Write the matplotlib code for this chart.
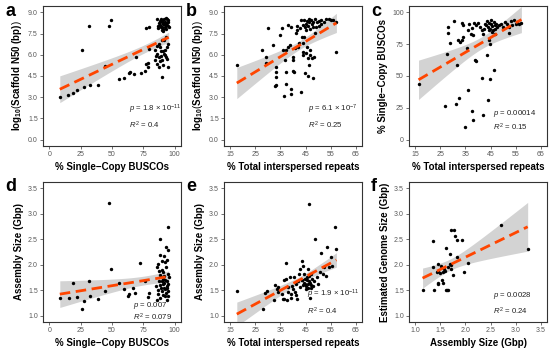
# -*- coding: utf-8 -*-
"""
Six-panel regression scatter (assembly quality vs repeats / BUSCO / size).
"""

import numpy as np
import matplotlib
matplotlib.use("Agg")
import matplotlib.pyplot as plt
from matplotlib.ticker import FormatStrFormatter

plt.rcParams["font.family"] = ["Liberation Sans", "DejaVu Sans"]
plt.rcParams["mathtext.fontset"] = "custom"
plt.rcParams["mathtext.rm"] = "Liberation Sans"
plt.rcParams["mathtext.it"] = "Liberation Sans:italic"
plt.rcParams["mathtext.bf"] = "Liberation Sans:bold"

ORANGE = "#FF4500"
BAND = "#D3D3D3"
TICK = "#595959"

# ---------- panel a : BUSCO vs log10 scaffold N50 ----------
busco_a = [8.4, 15.1, 18.6, 21.9, 27.8, 32.2, 38.9, 25.9, 31.4, 47.6, 48.9, 44.3,
           55.4, 59.2, 63.2, 64.3, 67.8, 68.9, 73.2, 76.5, 76.8, 76.8, 79.5, 79.5,
           78.6, 78.4,
           85.5, 88.0, 89.5, 90.5, 91.5, 92.0, 93.0, 94.0, 95.0, 88.5, 89.0, 90.0,
           91.0, 92.5, 93.5, 94.5, 87.5, 86.5, 90.5, 91.8, 89.8, 93.2, 94.8, 87.0,
           88.8, 92.8, 95.2, 90.8,
           84.1, 84.6, 85.9, 86.2, 87.3, 87.8, 88.6, 89.5, 90.0, 91.4, 92.2, 93.2,
           94.1, 94.6, 94.9, 93.0, 90.0, 87.3, 91.0, 89.0, 92.5, 90.5, 88.0, 86.0,
           93.8, 91.8, 89.2, 85.0]
n50_a = [3.00, 3.19, 3.31, 3.52, 3.73, 3.87, 3.87, 6.31, 8.03, 8.01, 8.48, 5.24,
         4.28, 4.37, 4.72, 4.80, 4.61, 5.81, 4.70, 4.82, 5.36, 7.89, 7.96, 6.38,
         5.43, 5.13,
         8.55, 8.40, 8.30, 8.45, 8.20, 8.35, 8.10, 8.50, 8.45, 8.10, 7.95, 8.00,
         7.85, 7.95, 8.25, 8.05, 8.25, 8.05, 8.15, 8.50, 7.75, 7.80, 8.30, 7.90,
         8.55, 8.60, 7.95, 7.70,
         6.31, 5.60, 6.07, 5.36, 5.83, 5.13, 6.54, 4.42, 5.60, 6.07, 6.31, 5.83,
         6.54, 5.13, 6.73, 7.25, 7.02, 6.78, 6.25, 5.90, 6.00, 5.30, 5.55, 6.60,
         5.70, 7.05, 6.25, 5.90]

# ---------- panel b : repeats vs log10 scaffold N50 ----------
rep_b = [17.6, 29.9, 27.7, 29.3, 29.4, 31.9, 32.7, 33.1, 33.1, 33.1, 33.3, 34.9,
         35.5, 35.9, 36.6, 36.8, 37.1, 37.1, 37.2, 37.9, 38.1, 38.8, 39.4, 39.2,
         39.4, 40.1, 40.1, 40.1, 40.5, 40.7, 41.0, 41.4, 41.4, 42.0, 42.3, 42.7,
         43.1, 43.3, 43.6, 44.0, 44.0, 44.1, 44.4, 44.9, 45.3, 45.6, 45.9, 45.9,
         46.3, 46.6, 46.9, 47.5, 47.9, 48.5, 48.8, 49.2, 51.1, 52.4, 53.3, 54.4,
         55.3, 56.0, 57.2, 57.3, 51.1,
         44.5, 45.0, 45.5, 46.0, 46.5, 47.0, 47.5, 48.0, 44.8, 46.2, 47.8, 49.5,
         50.2, 45.2, 43.8, 48.6, 46.8, 50.5]
n50_b = [5.27, 7.86, 6.34, 5.87, 5.41, 6.69, 3.78, 3.89, 4.43, 4.76, 5.17, 7.39,
         7.86, 6.34, 3.12, 5.64, 4.76, 3.94, 6.34, 6.57, 8.09, 6.69, 7.97, 3.59,
         3.24, 5.87, 5.64, 4.83, 4.76, 6.46, 7.51, 7.74, 8.02, 6.57, 6.81, 7.86,
         3.38, 8.44, 7.27, 6.81, 6.22, 5.99, 7.27, 4.71, 6.11, 6.57, 4.48, 5.76,
         5.29, 5.99, 6.34, 5.76, 4.36, 5.87, 7.51, 7.97, 8.20, 8.32, 8.55, 8.55,
         8.48, 8.48, 8.32, 6.18, 8.44,
         8.45, 8.20, 8.40, 8.05, 8.30, 8.45, 8.15, 8.35, 7.95, 8.50, 7.95, 8.30,
         8.05, 7.75, 8.10, 8.50, 7.85, 8.40]

# ---------- panel c : repeats vs BUSCO ----------
rep_c = [16.3, 26.7, 27.7, 28.1, 28.1, 28.8, 30.6, 31.4, 31.6, 32.3, 32.0, 32.7,
         33.6, 34.2, 33.8, 34.2, 34.9, 35.9, 35.8, 36.2, 36.6, 37.1, 37.5, 38.1,
         38.5, 38.8, 39.2, 39.4, 37.7, 38.1, 40.1, 40.7, 41.4, 41.8, 41.6, 42.0,
         42.3, 43.7, 44.0, 44.4, 44.6, 44.9, 46.2, 46.6,
         42.7, 43.3, 43.6, 44.0, 44.4, 44.6, 45.0, 45.3, 45.5, 45.9, 46.2, 46.6,
         46.9, 47.2, 47.5, 44.2, 45.7,
         48.5, 49.2, 49.8, 50.8, 51.4, 52.4, 53.1, 53.7, 54.4, 55.0, 55.6, 52.4,
         56.3, 57.3]
busco_c = [44.0, 26.2, 67.5, 88.5, 84.0, 75.9, 93.2, 28.3, 58.4, 32.7, 78.0, 76.7,
           91.6, 89.8, 78.0, 80.6, 9.9, 39.3, 72.0, 85.9, 90.6, 83.2, 88.0, 81.9,
           91.6, 62.8, 61.5, 89.8, 22.3, 15.7, 91.6, 88.5, 85.9, 19.1, 48.7, 83.2,
           87.2, 66.2, 31.4, 78.0, 74.9, 47.4, 54.5, 83.2,
           91.1, 89.8, 93.2, 88.5, 91.6, 87.2, 90.6, 93.7, 89.0, 86.4, 92.4, 89.8,
           87.2, 91.1, 88.5, 85.9, 84.6,
           89.8, 91.1, 88.5, 92.4, 90.6, 88.5, 93.2, 89.8, 93.7, 91.1, 92.4, 84.0,
           90.6, 91.6]

# ---------- panel d : BUSCO vs assembly size ----------
busco_d = [8.4, 15.7, 18.9, 21.9, 25.9, 27.8, 31.4, 32.4, 39.2, 44.1, 47.6, 49.2,
           55.4, 59.2, 62.4, 63.5, 67.0, 68.4, 72.7, 76.5, 78.6, 79.7,
           94.6, 87.9, 93.3, 94.9, 91.4, 90.0, 86.8,
           86.0, 87.5, 88.5, 89.5, 90.5, 91.5, 92.5, 93.5, 94.5, 95.0, 86.5, 87.0,
           88.0, 89.0, 90.0, 91.0, 92.0, 93.0, 94.0, 95.0, 85.5, 88.5, 90.5, 91.5,
           92.5, 93.5, 94.5, 89.5, 91.0, 93.0, 92.0, 87.5, 90.0, 94.0, 95.2, 88.0,
           85.0, 93.8, 91.8]
size_d = [1.34, 1.34, 1.65, 1.36, 1.13, 1.29, 1.69, 1.39, 1.32, 1.48, 3.21, 1.92,
          1.64, 1.52, 1.39, 1.43, 1.55, 1.45, 2.03, 1.69, 1.36, 1.45,
          2.74, 2.51, 2.34, 2.28, 2.18, 2.08, 2.02,
          1.95, 1.88, 1.80, 1.75, 1.72, 1.78, 1.70, 1.68, 1.82, 1.62, 1.50, 1.42,
          1.60, 1.55, 1.48, 1.40, 1.52, 1.45, 1.58, 1.38, 1.30, 1.35, 1.62, 1.55,
          1.38, 1.30, 1.48, 1.68, 1.85, 1.95, 2.05, 1.68, 1.90, 2.10, 1.75, 2.20,
          1.58, 1.55, 1.65]

# ---------- panel e : repeats vs assembly size ----------
rep_e = [17.6, 28.0, 29.0, 29.7, 32.3, 32.9, 33.6, 34.2, 34.2, 35.8, 35.9, 36.6,
         36.6, 37.1, 37.2, 37.5, 37.9, 38.1, 38.8, 39.2, 39.4, 40.1, 40.5, 40.7,
         41.1, 41.4, 41.8, 42.3, 42.7, 43.6, 44.0, 44.4, 44.6, 44.9, 45.3, 45.6,
         45.9, 46.3, 46.6, 46.9, 47.2, 47.9, 48.5, 48.9, 49.5, 50.1, 50.7, 51.1,
         51.8, 52.4, 53.1, 53.4, 54.4, 55.0, 55.4, 56.9, 57.3,
         44.5, 45.0, 45.5, 46.0, 46.5, 47.0, 47.5, 45.8, 44.0, 43.5, 46.2, 47.2,
         42.9, 43.6, 39.8, 41.0]
size_e = [1.48, 1.13, 1.45, 1.49, 1.31, 1.60, 1.52, 1.46, 1.56, 1.43, 1.33, 1.70,
          1.33, 2.03, 1.72, 1.31, 1.46, 1.56, 1.75, 1.43, 1.34, 1.52, 1.75, 1.46,
          1.62, 1.33, 1.69, 1.82, 1.92, 2.08, 1.98, 1.82, 1.72, 1.62, 1.52, 1.75,
          1.92, 3.19, 1.65, 1.34, 1.82, 1.59, 1.69, 2.51, 1.75, 1.62, 1.86, 2.24,
          1.82, 1.95, 1.78, 2.35, 1.95, 2.15, 1.98, 2.75, 2.31,
          1.65, 1.58, 1.70, 1.55, 1.68, 1.60, 1.72, 1.62, 1.60, 1.70, 1.78, 1.55,
          1.56, 1.70, 1.58, 1.40]

# ---------- panel f : assembly size vs estimated genome size ----------
asm_f = [1.145, 1.36, 1.36, 1.375, 1.45, 1.43, 1.46, 1.45, 1.46, 1.54, 1.55,
         1.56, 1.58, 1.605, 1.64, 1.66, 1.605, 1.645, 1.69, 1.70, 1.72, 1.77,
         1.72, 1.76, 1.80, 1.84, 1.84, 1.94, 1.97, 2.05, 2.71, 3.24,
         1.49, 1.51, 1.71, 1.59]
gen_f = [1.50, 2.47, 1.96, 1.50, 2.01, 1.85, 1.88, 1.65, 1.62, 1.70, 1.65,
         1.85, 1.92, 1.50, 1.50, 1.50, 2.33, 1.95, 2.01, 2.21, 2.68, 2.68,
         2.00, 1.79, 2.57, 2.49, 2.16, 2.49, 1.85, 2.03, 2.78, 2.31,
         1.83, 1.98, 1.92, 1.88]

STATS = {
    "a": (r"$p$ = 1.8 × 10$^{-11}$", r"$R^2$ = 0.4"),
    "b": (r"$p$ = 6.1 × 10$^{-7}$", r"$R^2$ = 0.25"),
    "c": (r"$p$ = 0.00014", r"$R^2$ = 0.15"),
    "d": (r"$p$ = 0.007", r"$R^2$ = 0.079"),
    "e": (r"$p$ = 1.9 × 10$^{-11}$", r"$R^2$ = 0.4"),
    "f": (r"$p$ = 0.0028", r"$R^2$ = 0.24"),
}


def t975(df):
    z = 1.959964
    return z + (z**3 + z) / (4 * df) + (5 * z**5 + 16 * z**3 + 3 * z) / (96 * df**2)


def panel(fig, rect, letter, x, y, xlim, ylim, xticks, yticks, xlab, ylab,
          txt_pos, xfmt, yfmt):
    ax = fig.add_axes(rect)
    x = np.asarray(x, float)
    y = np.asarray(y, float)
    # OLS fit + 95% confidence band
    b1, b0 = np.polyfit(x, y, 1)
    n = len(x)
    resid = y - (b0 + b1 * x)
    s = np.sqrt(np.sum(resid**2) / (n - 2))
    xs = np.linspace(x.min(), x.max(), 100)
    se = s * np.sqrt(1 / n + (xs - x.mean())**2 / np.sum((x - x.mean())**2))
    yf = b0 + b1 * xs
    tq = t975(n - 2)
    ax.fill_between(xs, yf - tq * se, yf + tq * se, color=BAND, lw=0, zorder=1)
    ax.scatter(x, y, s=6, color="black", lw=0, zorder=2)
    ax.plot(xs, yf, color=ORANGE, lw=2.0, dashes=(3.8, 2.0), zorder=3)

    ax.set_xlim(*xlim)
    ax.set_ylim(*ylim)
    ax.set_xticks(xticks)
    ax.set_yticks(yticks)
    ax.xaxis.set_major_formatter(FormatStrFormatter(xfmt))
    ax.yaxis.set_major_formatter(FormatStrFormatter(yfmt))
    ax.tick_params(labelsize=5, colors=TICK, length=2.2, width=0.6, pad=1.5)
    for sp in ax.spines.values():
        sp.set_linewidth(0.8)
        sp.set_color("#333333")
    ax.set_xlabel(xlab, fontsize=7, weight="bold", labelpad=3)
    ax.set_ylabel(ylab, fontsize=7, weight="bold", labelpad=3)

    p_txt, r_txt = STATS[letter]
    tx, ty1, ty2 = txt_pos
    ax.text(tx, ty1, p_txt, transform=ax.transAxes, fontsize=5.6,
            ha="left", va="center", color="#222222")
    ax.text(tx, ty2, r_txt, transform=ax.transAxes, fontsize=5.6,
            ha="left", va="center", color="#222222")

    # panel letter
    pos = ax.get_position()
    fig.text(pos.x0 - 38 / 550, pos.y1 - 5 / 351, letter, fontsize=13,
             weight="bold", ha="left", va="center")
    return ax


W, H = 550, 351
fig = plt.figure(figsize=(W / 100, H / 100), dpi=100)


def rect(left, top):
    return [left / W, (H - top - 140) / H, 138 / W, 140 / H]


n50_lab = r"$\mathbf{log_{10}}\left(\mathbf{Scaffold\ N50\ (bp)}\right)$"
rep_lab = "% Total interspersed repeats"
busco_lab = "% Single\u2212Copy BUSCOs"

pct_lim = (-5, 105)
rep_lim = (12.5, 67.5)
n50_lim = (-0.45, 9.45)
gb_lim = (0.875, 3.625)
rep_t = [15, 25, 35, 45, 55, 65]
n50_t = [0, 1.5, 3, 4.5, 6, 7.5, 9]
pct_t = [0, 25, 50, 75, 100]
gb_t = [1.0, 1.5, 2.0, 2.5, 3.0, 3.5]

panel(fig, rect(43, 6), "a", busco_a, n50_a, pct_lim, n50_lim, pct_t, n50_t,
      busco_lab, n50_lab, (0.62, 0.26, 0.145), "%d", "%.1f")
panel(fig, rect(224, 6), "b", rep_b, n50_b, rep_lim, n50_lim, rep_t, n50_t,
      rep_lab, n50_lab, (0.61, 0.26, 0.145), "%d", "%.1f")
panel(fig, rect(409, 6), "c", rep_c, busco_c, rep_lim, pct_lim, rep_t, pct_t,
      rep_lab, busco_lab, (0.61, 0.23, 0.13), "%d", "%d")
panel(fig, rect(43, 182), "d", busco_d, size_d, pct_lim, gb_lim, pct_t, gb_t,
      busco_lab, "Assembly Size (Gbp)", (0.65, 0.115, 0.035), "%d", "%.1f")
panel(fig, rect(224, 182), "e", rep_e, size_e, rep_lim, gb_lim, rep_t, gb_t,
      rep_lab, "Assembly Size (Gbp)", (0.6, 0.2, 0.075), "%d", "%.1f")
panel(fig, rect(409, 182), "f", asm_f, gen_f, gb_lim, gb_lim, gb_t, gb_t,
      "Assembly Size (Gbp)", "Estimated Genome Size (Gbp)", (0.61, 0.19, 0.075),
      "%.1f", "%.1f")

fig.savefig("out.png", dpi=100, facecolor="white")
